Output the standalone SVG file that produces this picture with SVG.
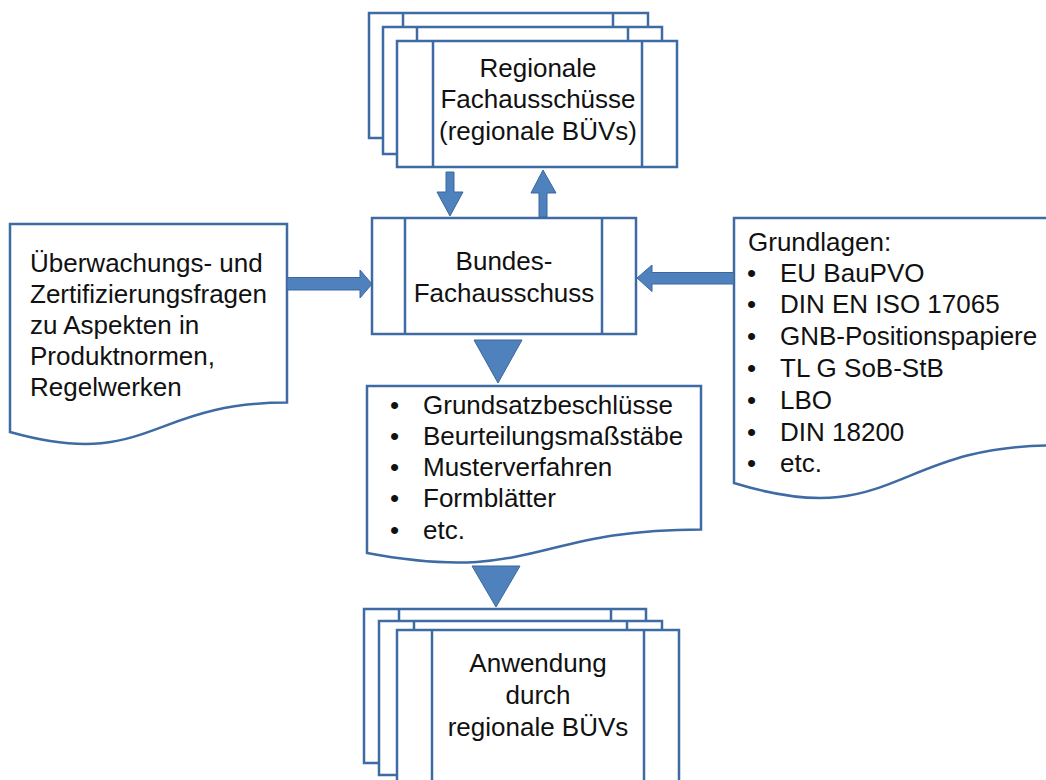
<svg xmlns="http://www.w3.org/2000/svg" width="1046" height="780" viewBox="0 0 1046 780">
<style>
.box{fill:#fff;stroke:#3E6BA3;stroke-width:2.5}
.ln{stroke:#3E6BA3;stroke-width:2.5;fill:none}
.arr{fill:#4F81BD;stroke:#3A679E;stroke-width:1}
text{font-family:"Liberation Sans",Arial,sans-serif;font-size:26px;fill:#111}
.c{text-anchor:middle}
</style>
<rect width="1046" height="780" fill="#fff"/>

<g id="regionale">
<rect class="box" x="369" y="13" width="279" height="125"/>
<line class="ln" x1="403" y1="13" x2="403" y2="138"/><line class="ln" x1="613" y1="13" x2="613" y2="138"/>
<rect class="box" x="383" y="27" width="279" height="127"/>
<line class="ln" x1="417" y1="27" x2="417" y2="154"/><line class="ln" x1="628" y1="27" x2="628" y2="154"/>
<rect class="box" x="397" y="41" width="280" height="126"/>
<line class="ln" x1="433" y1="41" x2="433" y2="167"/><line class="ln" x1="642" y1="41" x2="642" y2="167"/>
<text class="c" x="538" y="77">Regionale</text>
<text class="c" x="538" y="108">Fachausschüsse</text>
<text class="c" x="538" y="140">(regionale BÜVs)</text>
</g>

<g id="bundes">
<rect class="box" x="372" y="218" width="264" height="116"/>
<line class="ln" x1="405" y1="218" x2="405" y2="334"/><line class="ln" x1="602" y1="218" x2="602" y2="334"/>
<text class="c" x="504" y="270">Bundes-</text>
<text class="c" x="504" y="302">Fachausschuss</text>
</g>

<g id="fragen">
<path class="box" d="M10,224 H287 V402.6 C148.5,402.6 148.5,471 10,432 Z"/>
<text x="30" y="272">Überwachungs- und</text>
<text x="30" y="303">Zertifizierungsfragen</text>
<text x="30" y="334">zu Aspekten in</text>
<text x="30" y="365">Produktnormen,</text>
<text x="30" y="396">Regelwerken</text>
</g>

<g id="grundlagen">
<path class="box" d="M734,218 H1052 V445.5 C893,445.5 893,532 734,483 Z"/>
<text x="748" y="251">Grundlagen:</text>
<text x="747" y="282">•</text><text x="780" y="282">EU BauPVO</text>
<text x="747" y="313">•</text><text x="780" y="313">DIN EN ISO 17065</text>
<text x="747" y="345">•</text><text x="780" y="345">GNB-Positionspapiere</text>
<text x="747" y="377">•</text><text x="780" y="377">TL G SoB-StB</text>
<text x="747" y="409">•</text><text x="780" y="409">LBO</text>
<text x="747" y="441">•</text><text x="780" y="441">DIN 18200</text>
<text x="747" y="472">•</text><text x="780" y="472">etc.</text>
</g>

<g id="ergebnisse">
<path class="box" d="M367,386 H701 V529.4 C534,529.4 534,584 367,553 Z"/>
<text x="390" y="414">•</text><text x="423" y="414">Grundsatzbeschlüsse</text>
<text x="390" y="445">•</text><text x="423" y="445">Beurteilungsmaßstäbe</text>
<text x="390" y="476">•</text><text x="423" y="476">Musterverfahren</text>
<text x="390" y="507">•</text><text x="423" y="507">Formblätter</text>
<text x="390" y="539">•</text><text x="423" y="539">etc.</text>
</g>

<g id="anwendung">
<rect class="box" x="364" y="609" width="282" height="154"/>
<line class="ln" x1="399" y1="609" x2="399" y2="763"/><line class="ln" x1="611" y1="609" x2="611" y2="763"/>
<rect class="box" x="379" y="621" width="283" height="154"/>
<line class="ln" x1="414" y1="621" x2="414" y2="775"/><line class="ln" x1="627" y1="621" x2="627" y2="775"/>
<rect class="box" x="397" y="630" width="282" height="170"/>
<line class="ln" x1="432" y1="630" x2="432" y2="800"/><line class="ln" x1="644" y1="630" x2="644" y2="800"/>
<text class="c" x="538" y="672">Anwendung</text>
<text class="c" x="538" y="704">durch</text>
<text class="c" x="538" y="736">regionale BÜVs</text>
</g>

<g id="connectors">
<path class="arr" d="M446,172 H454 V192 H463 L450,216 L437,192 H446 Z"/>
<path class="arr" d="M539,217 V193 H531 L543,170 L556,193 H547 V217 Z"/>
<path class="arr" d="M287,277.5 H360 V270 L372,284 L360,298 V290 H287 Z"/>
<path class="arr" d="M734,272.5 H652 V265 L637,278 L652,291.5 V284 H734 Z"/>
<path class="arr" d="M474,340 H522 L498,383 Z"/>
<path class="arr" d="M472,566 H520 L496,607 Z"/>
</g>
</svg>
